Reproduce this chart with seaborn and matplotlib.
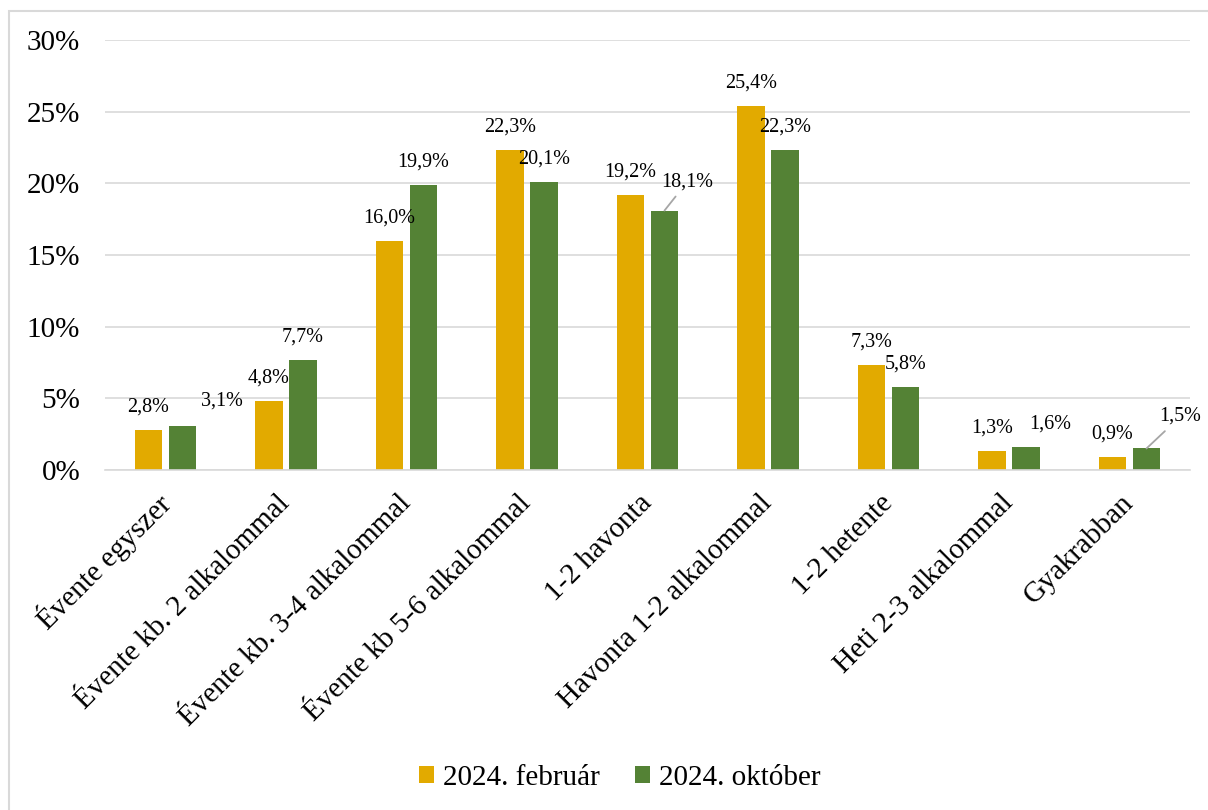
import matplotlib
matplotlib.use("Agg")
import matplotlib.pyplot as plt
from matplotlib.patches import Rectangle
from matplotlib.ticker import FuncFormatter
import pandas as pd
import seaborn as sns

# Purchase frequency categories and the two survey waves (percent)
categories = [
    "Évente egyszer",
    "Évente kb. 2 alkalommal",
    "Évente kb. 3-4 alkalommal",
    "Évente kb 5-6 alkalommal",
    "1-2 havonta",
    "Havonta 1-2 alkalommal",
    "1-2 hetente",
    "Heti 2-3 alkalommal",
    "Gyakrabban",
]
series_names = ["2024. február", "2024. október"]
feb_values = [2.8, 4.8, 16.0, 22.3, 19.2, 25.4, 7.3, 1.3, 0.9]
oct_values = [3.1, 7.7, 19.9, 20.1, 18.1, 22.3, 5.8, 1.6, 1.5]
y_ticks = [0, 5, 10, 15, 20, 25, 30]

colors = ["#E2AA00", "#548235"]
grid_color = "#D9D9D9"

df = pd.DataFrame({
    "category": categories * 2,
    "series": [series_names[0]] * len(categories) + [series_names[1]] * len(categories),
    "value": feb_values + oct_values,
})

sns.set_theme(style="white")
plt.rcParams["font.family"] = ["Liberation Serif", "DejaVu Serif"]
plt.rcParams["text.color"] = "black"

fig = plt.figure(figsize=(12.08, 8.10), dpi=100)
ax = fig.add_axes([0.0871, 0.4198, 0.8978, 0.5308])

sns.barplot(
    data=df, x="category", y="value", hue="series",
    order=categories, hue_order=series_names,
    palette=colors, width=0.564, gap=0.2,
    saturation=1, linewidth=0, ax=ax,
)

ax.set_xlim(-0.5, len(categories) - 0.5)
ax.set_ylim(0, 30)
ax.set_yticks(y_ticks)
ax.yaxis.set_major_formatter(FuncFormatter(lambda v, _: f"{v:.0f}%"))
ax.set_xlabel("")
ax.set_ylabel("")

ax.grid(axis="y", color=grid_color, linewidth=1.2)
ax.grid(axis="x", visible=False)
ax.set_axisbelow(True)
for side in ["left", "right", "top"]:
    ax.spines[side].set_visible(False)
ax.spines["bottom"].set_color(grid_color)
ax.spines["bottom"].set_linewidth(1.2)

ax.tick_params(axis="y", length=0, pad=18, labelsize=21, labelcolor="black")
ax.tick_params(axis="x", length=0, pad=21, labelsize=21, labelcolor="black")
plt.setp(ax.get_xticklabels(), rotation=45, ha="right", va="center",
         rotation_mode="anchor")

# Value labels: offsets (in pixels) from the top centre of each bar
default_offset = (0, 23)
special_offsets = {
    (1, 0): (39, 24),
    (1, 4): (23, 29),
    (1, 7): (24, 23),
    (1, 8): (34, 32),
}
leader_bars = {(1, 4), (1, 8)}

for s_idx, container in enumerate(ax.containers):
    vals = [feb_values, oct_values][s_idx]
    for c_idx, bar in enumerate(container.patches):
        value = vals[c_idx]
        xc = bar.get_x() + bar.get_width() / 2
        dx, dy = special_offsets.get((s_idx, c_idx), default_offset)
        label = f"{value:.1f}".replace(".", ",") + "%"
        kwargs = {}
        if (s_idx, c_idx) in leader_bars:
            kwargs["arrowprops"] = dict(arrowstyle="-", color="#A6A6A6", lw=1.3,
                                        shrinkA=2, shrinkB=0)
        ax.annotate(label, xy=(xc, value), xytext=(dx, dy),
                    textcoords="offset pixels", ha="center", va="center",
                    fontsize=14.5, color="black", **kwargs)

sns.move_legend(
    ax, "center", bbox_to_anchor=(0.513, 0.0395), bbox_transform=fig.transFigure,
    ncol=2, frameon=False, title=None, fontsize=21,
    handlelength=0.52, handleheight=0.52, handletextpad=0.3, columnspacing=1.2,
)
for txt in ax.get_legend().get_texts():
    txt.set_color("black")

# Light frame around the chart area
fig.add_artist(Rectangle((9 / 1208, -0.05), 1.1, 1 - 11 / 810 + 0.05,
                         transform=fig.transFigure, fill=False,
                         edgecolor=grid_color, linewidth=1.5))

fig.savefig("out.png", dpi=100)
